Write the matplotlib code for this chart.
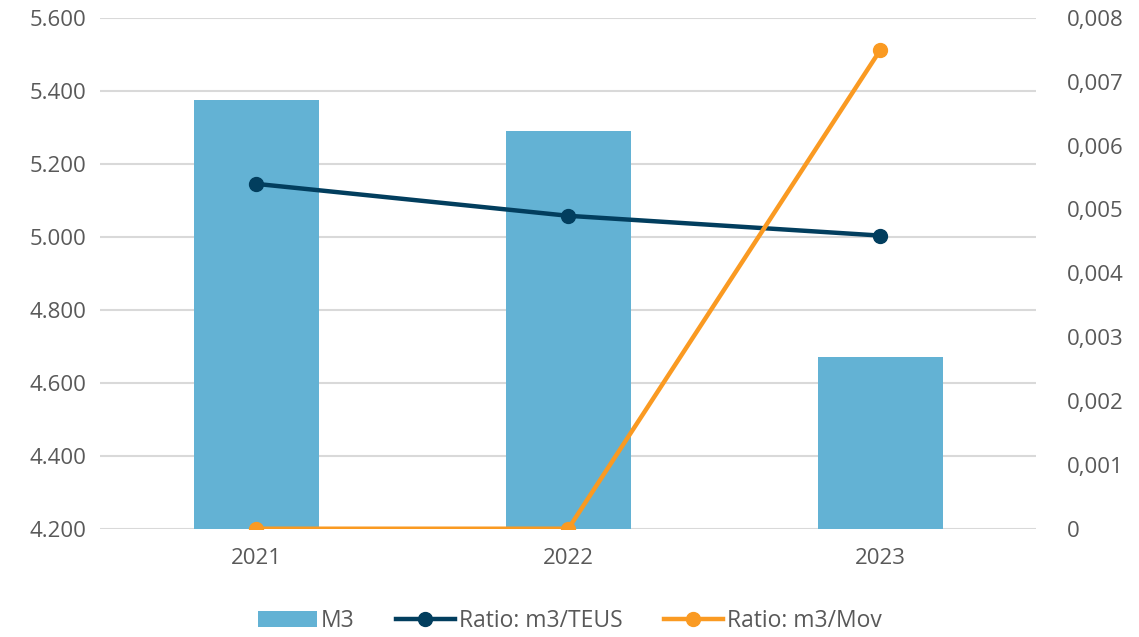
import numpy as np
import matplotlib.pyplot as plt
from matplotlib.ticker import FuncFormatter

years = ['2021', '2022', '2023']
m3 = [5375, 5290, 4671]
ratio_teus = [0.0054, 0.0049, 0.00459]
ratio_mov = [0.0, 0.0, 0.0075]

plt.rcParams['font.family'] = ['Open Sans', 'DejaVu Sans']
txt = '#595959'

fig = plt.figure(figsize=(11.39, 6.37), dpi=100)
ax = fig.add_axes([0.088, 0.170, 0.822, 0.802])
ax2 = ax.twinx()

x = np.arange(len(years))
b = ax.bar(x, m3, width=0.4, color='#63b2d4', zorder=2, label='M3')
ax.set_ylim(4200, 5600)
ax.set_yticks(np.arange(4200, 5601, 200))
ax.yaxis.set_major_formatter(FuncFormatter(lambda v, p: '{:,.0f}'.format(v).replace(',', '.')))
ax.set_xlim(-0.5, 2.5)
ax.set_xticks(x)
ax.set_xticklabels(years)
ax.grid(axis='y', color='#d9d9d9', lw=1.5, zorder=0)
ax.set_axisbelow(True)

l1, = ax2.plot(x, ratio_teus, color='#023e5e', lw=3.2, marker='o', ms=10, label='Ratio: m3/TEUS', zorder=3)
l2, = ax2.plot(x, ratio_mov, color='#fa9a22', lw=3.2, marker='o', ms=10, label='Ratio: m3/Mov', zorder=4)
ax2.set_ylim(0, 0.008)
ax2.set_yticks(np.arange(0, 0.0081, 0.001))
ax2.yaxis.set_major_formatter(FuncFormatter(lambda v, p: '0' if abs(v) < 1e-12 else '{:.3f}'.format(v).replace('.', ',')))

for a in (ax, ax2):
    for s in a.spines.values():
        s.set_visible(False)
    a.tick_params(length=0, labelsize=16, labelcolor=txt)
ax.tick_params(axis='y', pad=10)
ax2.tick_params(axis='y', pad=22)
ax.tick_params(axis='x', pad=14)

fig.legend([b, l1, l2], ['M3', 'Ratio: m3/TEUS', 'Ratio: m3/Mov'], loc='center',
           bbox_to_anchor=(0.5, 0.025), ncol=3, frameon=False, fontsize=16.5,
           labelcolor=txt, handlelength=2.6, handletextpad=0.15, columnspacing=1.8)

plt.savefig('out.png', dpi=100)
